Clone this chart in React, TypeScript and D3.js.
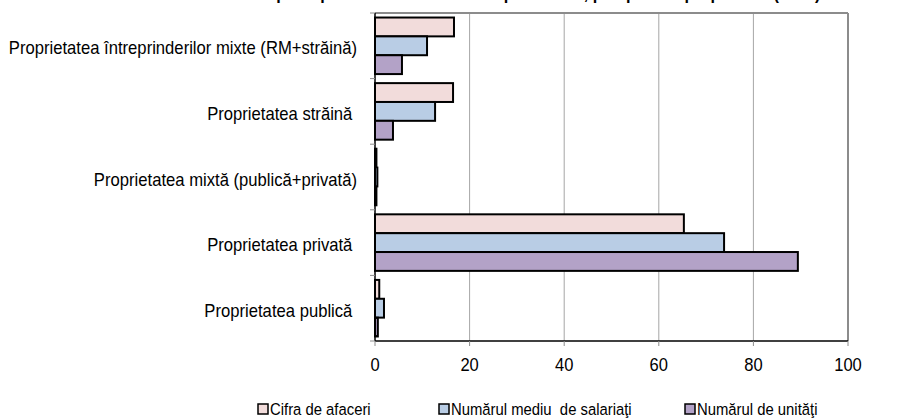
import React from "react";
import * as d3 from "d3";

const categories = [
  "Proprietatea întreprinderilor mixte (RM+străină)",
  "Proprietatea străină ",
  "Proprietatea mixtă (publică+privată)",
  "Proprietatea privată ",
  "Proprietatea publică ",
];
const seriesNames = ["Cifra de afaceri", "Numărul mediu  de salariaţi", "Numărul de unităţi"];
const cifra = [16.7, 16.5, 0.3, 65.3, 0.9];
const salariati = [11.0, 12.7, 0.5, 73.8, 1.9];
const unitati = [5.7, 3.8, 0.3, 89.4, 0.6];
const xTicks = [0, 20, 40, 60, 80, 100];
const title = "Structura principalilor indicatori ai întreprinderilor, pe tipuri de proprietate (2010)";

const colors = ["#F2DCDB", "#B9CDE5", "#B3A2C7"];
const series = [cifra, salariati, unitati];

function CText(props: { x: number; y: number; size: number; anchor?: string; sx?: number; children: React.ReactNode; weight?: string }) {
  const sx = props.sx ?? 0.9;
  return (
    <text
      transform={`translate(${props.x},${props.y}) scale(${sx},1)`}
      textAnchor={props.anchor ?? "start"}
      fontSize={props.size}
      fontWeight={props.weight}
      style={{ whiteSpace: "pre" }}
    >
      {props.children}
    </text>
  );
}

export default function App() {
  const W = 912, H = 420;
  const left = 375, right = 848, top = 13, bottom = 341;
  const x = d3.scaleLinear().domain([0, 100]).range([left, right]);
  const y = d3.scaleBand<string>().domain(categories).range([top, bottom]).paddingInner(0).paddingOuter(0);
  const inner = d3.scaleBand<number>().domain([0, 1, 2]).range([0, y.bandwidth()]).paddingOuter(0.24).paddingInner(0);
  const font = "'Liberation Sans', Arial, sans-serif";
  const legendX = [258, 439, 685];
  return (
    <svg width={W} height={H} style={{ position: "absolute", left: 0, top: 0, background: "#fff" }} fontFamily={font}>
      <CText x={510} y={-1} size={18} anchor="middle" weight="bold">{title}</CText>
      {/* grid */}
      {xTicks.slice(1).map((t) => (
        <line key={"g" + t} x1={x(t)} x2={x(t)} y1={top} y2={bottom} stroke="#a6a6a6" strokeWidth={1} />
      ))}
      <line x1={left} x2={right} y1={top} y2={top} stroke="#8c8c8c" strokeWidth={2} />
      <line x1={right} x2={right} y1={top} y2={bottom} stroke="#8c8c8c" strokeWidth={2} />
      {/* bars */}
      {categories.map((c, ci) =>
        series.map((s, si) => (
          <rect
            key={c + si}
            x={x(0)}
            y={(y(c) as number) + (inner(si) as number)}
            width={Math.max(0, x(s[ci]) - x(0))}
            height={inner.bandwidth()}
            fill={colors[si]}
            stroke="#000"
            strokeWidth={2}
          />
        ))
      )}
      {/* axes */}
      <line x1={left} x2={left} y1={top} y2={bottom} stroke="#000" strokeWidth={1.5} />
      <line x1={left} x2={right} y1={bottom} y2={bottom} stroke="#000" strokeWidth={1.5} />
      {d3.range(categories.length + 1).map((i) => {
        const yy = top + i * y.step();
        return <line key={"yt" + i} x1={left - 5} x2={left} y1={yy} y2={yy} stroke="#8c8c8c" strokeWidth={1} />;
      })}
      {xTicks.map((t) => (
        <g key={"xt" + t}>
          <line x1={x(t)} x2={x(t)} y1={bottom} y2={bottom + 5} stroke="#8c8c8c" strokeWidth={1} />
          <CText x={x(t)} y={bottom + 30} size={18} anchor="middle" sx={0.92}>{String(t)}</CText>
        </g>
      ))}
      {categories.map((c) => (
        <CText key={"l" + c} x={357} y={(y(c) as number) + y.bandwidth() / 2 + 8.5} size={18} anchor="end" sx={0.925}>
          {c}
        </CText>
      ))}
      {/* legend */}
      {seriesNames.map((n, i) => (
        <g key={"lg" + n}>
          <rect x={legendX[i]} y={404} width={10} height={10} fill={colors[i]} stroke="#000" strokeWidth={1.5} />
          <CText x={legendX[i] + 12} y={415} size={16.5} sx={0.9}>{n}</CText>
        </g>
      ))}
    </svg>
  );
}
